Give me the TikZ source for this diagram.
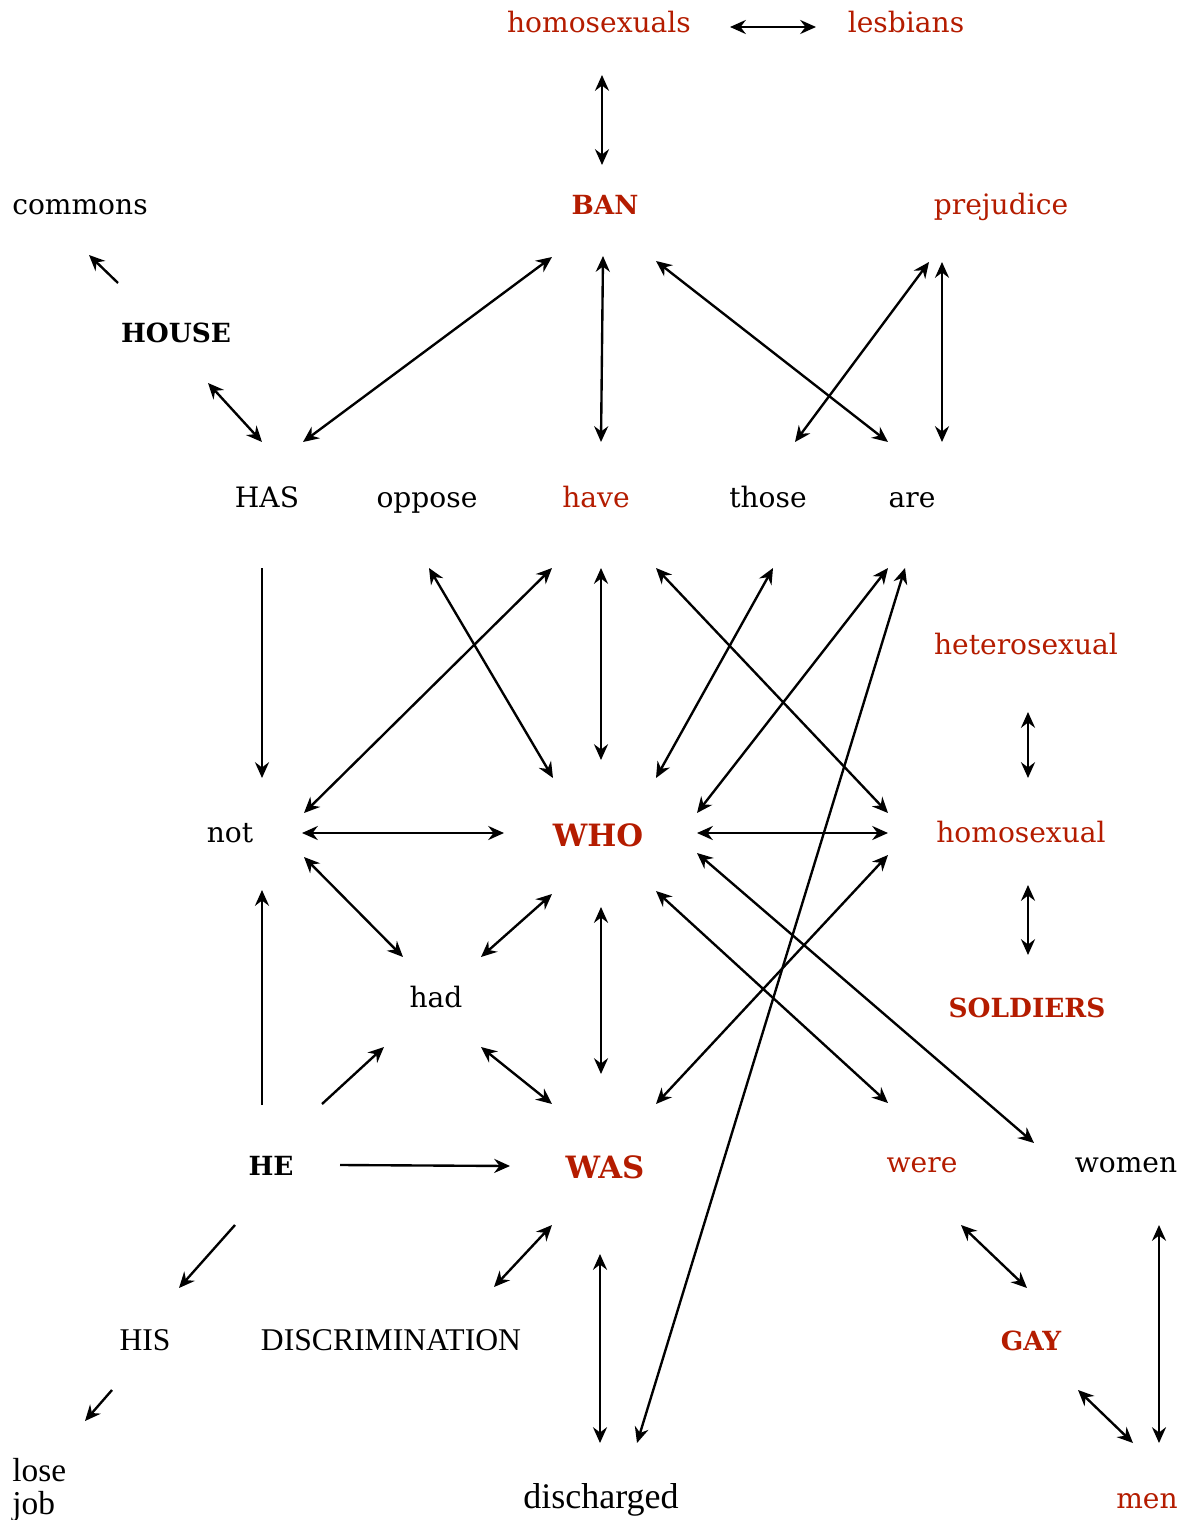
\documentclass[tikz,border=0pt]{standalone}
\usepackage{fontspec}
\newfontfamily\slabface{DejaVu Serif}
\newfontfamily\timesface{Liberation Serif}
\usetikzlibrary{arrows.meta}
\definecolor{wordred}{RGB}{180,28,0}
\tikzset{
  word/.style={inner sep=0pt, anchor=base, font=\slabface\fontsize{16}{20}\selectfont},
  hot/.style={word, text=wordred},
  key/.style={word, font=\slabface\bfseries\fontsize{15}{20}\selectfont},
  hotkey/.style={key, text=wordred},
  bigkey/.style={hotkey, font=\slabface\bfseries\fontsize{17.5}{22}\selectfont},
  plain/.style={inner sep=0pt, anchor=base, font=\timesface\fontsize{18}{20}\selectfont},
  tip/.style={Stealth[length=9pt,width=8pt,inset=3pt]},
  link/.style={line width=1.35pt, {Stealth[length=9pt,width=8pt,inset=3pt]}-{Stealth[length=9pt,width=8pt,inset=3pt]}},
  oneway/.style={line width=1.35pt, -{Stealth[length=9pt,width=8pt,inset=3pt]}}
}
\begin{document}
\begin{tikzpicture}[x=0.02cm, y=-0.02cm]
\useasboundingbox (0,0) rectangle (1193,1520);
% words, placed on their baselines
\node[hot]    (hs)    at (599,33)   {homosexuals};
\node[hot]    (les)   at (906,33)   {lesbians};
\node[word]   (com)   at (80,215)   {commons};
\node[hotkey] (ban)   at (605,215)  {BAN};
\node[hot]    (prej)  at (1001,215) {prejudice};
\node[key]    (house) at (176,342)  {HOUSE};
\node[word]   (has)   at (267,507)  {HAS};
\node[word]   (opp)   at (427,507)  {oppose};
\node[hot]    (have)  at (596,507)  {have};
\node[word]   (those) at (768,507)  {those};
\node[word]   (are)   at (912,507)  {are};
\node[hot]    (het)   at (1026,654) {heterosexual};
\node[word]   (not)   at (230,842)  {not};
\node[bigkey] (who)   at (598,846)  {WHO};
\node[hot]    (homo)  at (1021,842) {homosexual};
\node[word]   (had)   at (436,1007) {had};
\node[hotkey] (sold)  at (1027,1017) {SOLDIERS};
\node[key]    (he)    at (271,1175) {HE};
\node[bigkey] (was)   at (605,1178) {WAS};
\node[hot]    (were)  at (922,1172) {were};
\node[word]   (women) at (1126,1172) {women};
\node[plain]  (his)   at (145,1350) {HIS};
\node[plain]  (disc)  at (391,1350) {DISCRIMINATION};
\node[hotkey] (gay)   at (1031,1350) {GAY};
\node[plain, anchor=north west, align=left, font=\timesface\fontsize{19}{19}\selectfont] (lose) at (12,1458) {lose\\job};
\node[plain, font=\timesface\fontsize{20.5}{22}\selectfont] (dis) at (601,1508) {discharged};
\node[hot]    (men)   at (1147,1508) {men};
% connectors
\draw[link] ([shift={(131,-6)}]hs.base) -- ([shift={(-90,-6)}]les.base);
\draw[link] ([shift={(3,42)}]hs.base) -- ([shift={(-3,-50)}]ban.base);
\draw[oneway] ([shift={(-58,-59)}]house.base) -- ([shift={(9,40)}]com.base);
\draw[link] ([shift={(32,41)}]house.base) -- ([shift={(-5,-65)}]has.base);
\draw[link] ([shift={(36,-65)}]has.base) -- ([shift={(-53,42)}]ban.base);
\draw[link] ([shift={(-2,41)}]ban.base) -- ([shift={(5,-65)}]have.base);
\draw[link] ([shift={(51,46)}]ban.base) -- ([shift={(-24,-65)}]are.base);
\draw[link] ([shift={(-72,47)}]prej.base) -- ([shift={(27,-65)}]those.base);
\draw[link] ([shift={(-59,47)}]prej.base) -- ([shift={(30,-65)}]are.base);
\draw[oneway] ([shift={(-5,61)}]has.base) -- ([shift={(32,-64)}]not.base);
\draw[link] ([shift={(2,61)}]opp.base) -- ([shift={(-45,-68)}]who.base);
\draw[link] ([shift={(-44,61)}]have.base) -- ([shift={(74,-29)}]not.base);
\draw[link] ([shift={(5,61)}]have.base) -- ([shift={(3,-86)}]who.base);
\draw[link] ([shift={(60,61)}]have.base) -- ([shift={(-133,-29)}]homo.base);
\draw[link] ([shift={(5,61)}]those.base) -- ([shift={(58,-68)}]who.base);
\draw[link] ([shift={(-24,61)}]are.base) -- ([shift={(99,-33)}]who.base);
\draw[link] ([shift={(-7,61)}]are.base) -- ([shift={(36,-65)}]dis.base);
\draw[link] ([shift={(2,58)}]het.base) -- ([shift={(7,-64)}]homo.base);
\draw[link] ([shift={(72,-9)}]not.base) -- ([shift={(-94,-13)}]who.base);
\draw[link] ([shift={(99,-13)}]who.base) -- ([shift={(-133,-9)}]homo.base);
\draw[link] ([shift={(7,43)}]homo.base) -- ([shift={(1,-62)}]sold.base);
\draw[link] ([shift={(74,15)}]not.base) -- ([shift={(-33,-50)}]had.base);
\draw[link] ([shift={(-46,48)}]who.base) -- ([shift={(45,-50)}]had.base);
\draw[link] ([shift={(3,61)}]who.base) -- ([shift={(-4,-104)}]was.base);
\draw[link] ([shift={(58,45)}]who.base) -- ([shift={(-34,-69)}]were.base);
\draw[link] ([shift={(99,7)}]who.base) -- ([shift={(-92,-29)}]women.base);
\draw[link] ([shift={(-133,13)}]homo.base) -- ([shift={(51,-74)}]was.base);
\draw[oneway] ([shift={(-9,-70)}]he.base) -- ([shift={(32,48)}]not.base);
\draw[oneway] ([shift={(51,-71)}]he.base) -- ([shift={(-52,40)}]had.base);
\draw[link] ([shift={(45,40)}]had.base) -- ([shift={(-53,-74)}]was.base);
\draw[oneway] ([shift={(69,-10)}]he.base) -- ([shift={(-95,-12)}]was.base);
\draw[oneway] ([shift={(-36,50)}]he.base) -- ([shift={(34,-62)}]his.base);
\draw[link] ([shift={(-53,47)}]was.base) -- ([shift={(103,-63)}]disc.base);
\draw[link] ([shift={(-5,76)}]was.base) -- ([shift={(-1,-65)}]dis.base);
\draw[oneway] ([shift={(-33,40)}]his.base) -- ([shift={(73,-37)}]lose.north west);
\draw[link] ([shift={(39,53)}]were.base) -- ([shift={(-4,-62)}]gay.base);
\draw[link] ([shift={(33,53)}]women.base) -- ([shift={(12,-65)}]men.base);
\draw[link] ([shift={(47,40)}]gay.base) -- ([shift={(-14,-65)}]men.base);
\end{tikzpicture}
\end{document}
